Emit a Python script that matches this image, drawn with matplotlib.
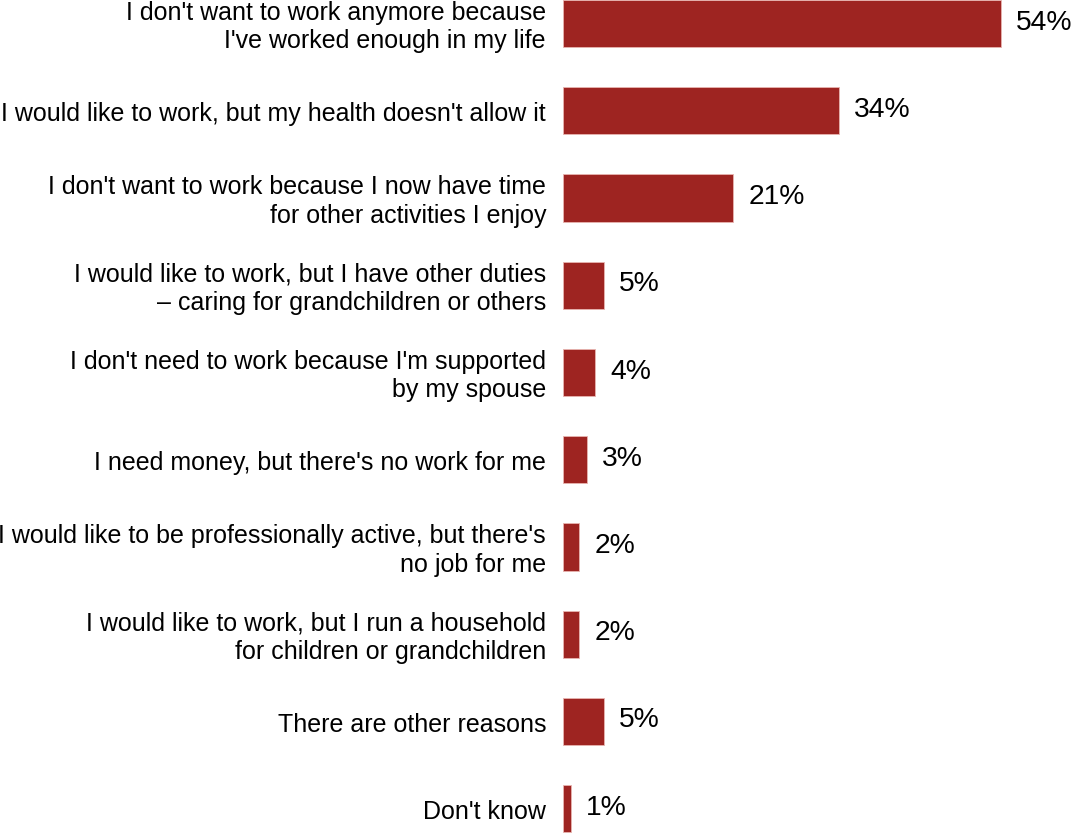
import matplotlib.pyplot as plt

plt.rcParams['font.family'] = ['Liberation Sans', 'DejaVu Sans']

labels = [
    "I don't want to work anymore because\nI've worked enough in my life",
    "I would like to work, but my health doesn't allow it",
    "I don't want to work because I now have time\nfor other activities I enjoy",
    "I would like to work, but I have other duties\n\u2013 caring for grandchildren or others",
    "I don't need to work because I'm supported\nby my spouse",
    "I need money, but there's no work for me",
    "I would like to be professionally active, but there's\nno job for me",
    "I would like to work, but I run a household\nfor children or grandchildren",
    "There are other reasons",
    "Don't know",
]
values = [54, 34, 21, 5, 4, 3, 2, 2, 5, 1]

bar_color = '#9e2421'

fig = plt.figure(figsize=(10.73, 8.34), dpi=100)
ax = fig.add_axes([563 / 1073, 0, 510 / 1073, 1])

ypos = list(range(len(values)))
ax.barh(ypos, values, height=0.54, color=bar_color, edgecolor='#e8b4b0', linewidth=0.6)

ax.set_xlim(0, 510 / 8.11)
ax.set_ylim(9.29, -0.27)

for y, v, lab in zip(ypos, values, labels):
    ax.annotate(lab, xy=(0, y), xytext=(-17, -3.5), textcoords='offset pixels',
                ha='right', va='center', fontsize=18, linespacing=1.25)
    ax.annotate(f"{v}%", xy=(v, y), xytext=(15, 1), textcoords='offset pixels',
                ha='left', va='center', fontsize=20.3)

ax.axis('off')

fig.savefig('out.png', dpi=100)
